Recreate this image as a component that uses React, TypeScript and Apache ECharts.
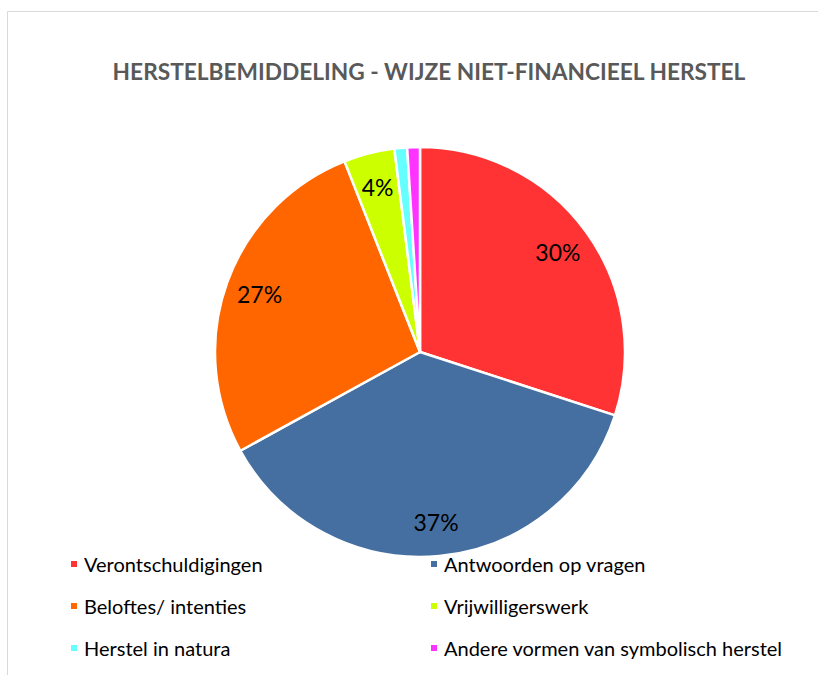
import React, { useEffect, useRef } from "react";
import * as echarts from "echarts";

const categories = [
  "Verontschuldigingen",
  "Antwoorden op vragen",
  "Beloftes/ intenties",
  "Vrijwilligerswerk",
  "Herstel in natura",
  "Andere vormen van symbolisch herstel",
];
const values = [30, 37, 27, 4, 1, 1];
const colors = ["#FF3333", "#446FA0", "#FF6600", "#CCFF00", "#66FFFF", "#FF33FF"];
const legendLeft = [categories[0], categories[2], categories[4]];
const legendRight = [categories[1], categories[3], categories[5]];

const FONT = "Lato, 'Open Sans', sans-serif";

export default function App() {
  const ref = useRef<HTMLDivElement>(null);
  useEffect(() => {
    if (!ref.current) return;
    const chart = echarts.init(ref.current, undefined, { renderer: "svg" });
    const data = categories.map((name, i) => ({
      name,
      value: values[i],
      itemStyle: { color: colors[i] },
    }));
    const total = values.reduce((a, b) => a + b, 0);
    const legendCommon = {
      orient: "vertical" as const,
      top: 554,
      padding: 0,
      itemWidth: 8,
      itemHeight: 8,
      itemGap: 22,
      icon: "rect",
      textStyle: { fontFamily: FONT, fontSize: 20, lineHeight: 20, color: "#000", padding: [0, 0, 0, 1] },
      selectedMode: false,
    };
    chart.setOption({
      animation: false,
      backgroundColor: "#fff",
      title: {
        text: "HERSTELBEMIDDELING - WIJZE NIET-FINANCIEEL HERSTEL",
        left: 429,
        top: 60,
        padding: 0,
        textAlign: "center",
        textStyle: { fontFamily: FONT, fontSize: 22.7, fontWeight: "bold", color: "#595959" },
      },
      graphic: [
        {
          type: "rect",
          shape: { x: 7.5, y: 11.5, width: 900, height: 800 },
          style: { fill: "none", stroke: "#D9D9D9", lineWidth: 1 },
          silent: true,
          z: -10,
        },
      ],
      legend: [
        { ...legendCommon, left: 69, data: legendLeft },
        { ...legendCommon, left: 429, data: legendRight },
      ],
      series: [
        {
          type: "pie",
          center: [420, 352],
          radius: [0, 205],
          startAngle: 90,
          clockwise: true,
          data,
          itemStyle: { borderColor: "#fff", borderWidth: 2.5 },
          label: { show: false },
          labelLine: { show: false },
          emphasis: { disabled: true },
        },
        {
          type: "pie",
          center: [420, 352],
          radius: [130, 205],
          startAngle: 90,
          clockwise: true,
          silent: true,
          data: data.map((d) => ({ ...d, itemStyle: { color: "rgba(0,0,0,0)" } })),
          legendHoverLink: false,
          label: {
            show: true,
            position: "inside",
            fontFamily: FONT,
            fontSize: 23,
            color: "#000",
            formatter: (p: any) =>
              p.value / total >= 0.02 ? Math.round((p.value / total) * 100) + "%" : "",
          },
          labelLine: { show: false },
          emphasis: { disabled: true },
        },
      ],
    });
    return () => chart.dispose();
  }, []);
  return (
    <div
      ref={ref}
      style={{ position: "fixed", left: 0, top: 0, width: 818, height: 675 }}
    />
  );
}
